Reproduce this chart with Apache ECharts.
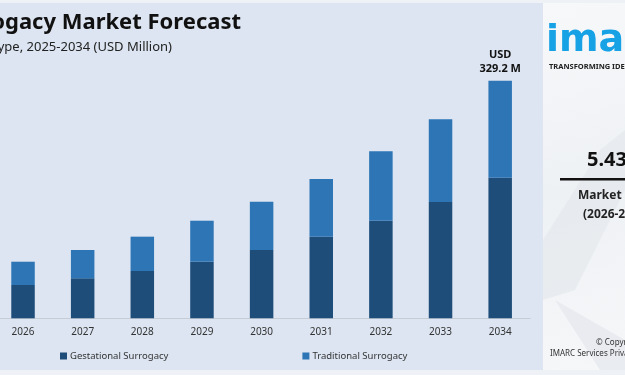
<!DOCTYPE html>
<html>
<head>
<meta charset="utf-8">
<script src="https://cdn.jsdelivr.net/npm/echarts@6/dist/echarts.min.js"></script>
<style>
  html, body { margin: 0; padding: 0; background: #eef2f7; }
  #chart { width: 625px; height: 375px; }
</style>
</head>
<body>
<div id="chart"></div>
<script>
  // values (USD Million)
  var years = ['2026', '2027', '2028', '2029', '2030', '2031', '2032', '2033', '2034'];
  var gestational = [46.1, 55.4, 65.5, 78.4, 94.6, 113.1, 135.2, 161.1, 194.8];
  var traditional = [32.3, 39.2, 47.6, 56.8, 67.0, 79.9, 96.2, 114.6, 134.4];
  var seriesNames = ['Gestational Surrogacy', 'Traditional Surrogacy'];
  var topLabel = 'USD\n329.2 M';

  var chart = echarts.init(document.getElementById('chart'));
  var font = 'Noto Sans';

  var option = {
    backgroundColor: '#eef2f7',
    animation: false,
    textStyle: { fontFamily: font },
    graphic: [
      // chart panel
      { type: 'rect', shape: { x: 0, y: 3, width: 543, height: 367 }, style: { fill: '#dce5f1' }, z: -10 },
      // right panel
      {
        type: 'rect', shape: { x: 543, y: 3, width: 82, height: 367 }, z: -10,
        style: {
          fill: new echarts.graphic.LinearGradient(0, 0, 1, 1, [
            { offset: 0, color: '#f7f8fa' },
            { offset: 0.5, color: '#eef1f4' },
            { offset: 1, color: '#f6f7f9' }
          ])
        }
      },
      { type: 'polygon', shape: { points: [[543, 240], [600, 150], [625, 130], [625, 190], [575, 290], [543, 300]] }, style: { fill: '#e4e8ec', opacity: 0.7 }, z: -9 },
      { type: 'polygon', shape: { points: [[555, 300], [625, 340], [625, 370], [600, 370]] }, style: { fill: '#e6e9ed', opacity: 0.8 }, z: -9 },
      // title
      { type: 'text', x: 241, y: 23, style: { text: 'Surrogacy Market Forecast', align: 'right', verticalAlign: 'middle', fontSize: 22, fontWeight: 'bold', fill: '#111', fontFamily: font } },
      { type: 'text', x: 172, y: 47, style: { text: 'By Type, 2025-2034 (USD Million)', align: 'right', verticalAlign: 'middle', fontSize: 13, fill: '#222', fontFamily: font } },
      // logo
      { type: 'text', x: 546, y: 41, style: { text: 'imarc', verticalAlign: 'middle', fontSize: 38, fontWeight: 'bold', fill: '#17a2e6', fontFamily: 'DejaVu Sans' } },
      { type: 'text', x: 549, y: 67, style: { text: 'TRANSFORMING IDEAS INTO IMPACT', verticalAlign: 'middle', fontSize: 7.5, fontWeight: 'bold', fill: '#222', fontFamily: font } },
      // growth rate
      { type: 'text', x: 587, y: 160, style: { text: '5.43%', verticalAlign: 'middle', fontSize: 20, fontWeight: 'bold', fill: '#111', fontFamily: font } },
      { type: 'rect', shape: { x: 560, y: 178, width: 65, height: 2.5 }, style: { fill: '#111' } },
      { type: 'text', x: 578, y: 196, style: { text: 'Market Growth Rate', verticalAlign: 'middle', fontSize: 12, fontWeight: 'bold', fill: '#222', fontFamily: font } },
      { type: 'text', x: 583, y: 215, style: { text: '(2026-2034)', verticalAlign: 'middle', fontSize: 12, fontWeight: 'bold', fill: '#222', fontFamily: font } },
      // copyright
      { type: 'text', x: 596, y: 343, style: { text: '© Copyright 2025', verticalAlign: 'middle', fontSize: 8, fill: '#333', fontFamily: font } },
      { type: 'text', x: 550, y: 354, style: { text: 'IMARC Services Private Limited', verticalAlign: 'middle', fontSize: 8, fill: '#333', fontFamily: font } }
    ],
    legend: {
      data: seriesNames,
      left: 60,
      top: 351,
      padding: 0,
      itemWidth: 7,
      itemHeight: 7,
      itemGap: 134,
      icon: 'rect',
      textStyle: { fontSize: 9.5, color: '#333', padding: [0, 0, 0, -2] }
    },
    grid: { left: -6.8, right: 95, top: 29.6, bottom: 56.7, outerBoundsMode: 'none' },
    xAxis: {
      type: 'category',
      data: years,
      axisLine: { lineStyle: { color: '#c5ccd4' } },
      axisTick: { show: false },
      axisLabel: { color: '#333', fontSize: 10, margin: 9 }
    },
    yAxis: {
      type: 'value',
      min: 0,
      max: 400,
      show: false,
      splitLine: { show: false }
    },
    series: [
      {
        name: seriesNames[0],
        type: 'bar',
        stack: 'total',
        barWidth: 23.5,
        data: gestational,
        itemStyle: { color: '#1e4d7a' }
      },
      {
        name: seriesNames[1],
        type: 'bar',
        stack: 'total',
        barWidth: 23.5,
        data: traditional.map(function (v, i) {
          if (i === traditional.length - 1) {
            return {
              value: v,
              label: {
                show: true,
                position: 'top',
                distance: 5,
                formatter: topLabel,
                fontSize: 11,
                fontWeight: 'bold',
                lineHeight: 14,
                color: '#111'
              }
            };
          }
          return v;
        }),
        itemStyle: { color: '#2e75b6' }
      }
    ]
  };

  chart.setOption(option);
</script>
</body>
</html>
